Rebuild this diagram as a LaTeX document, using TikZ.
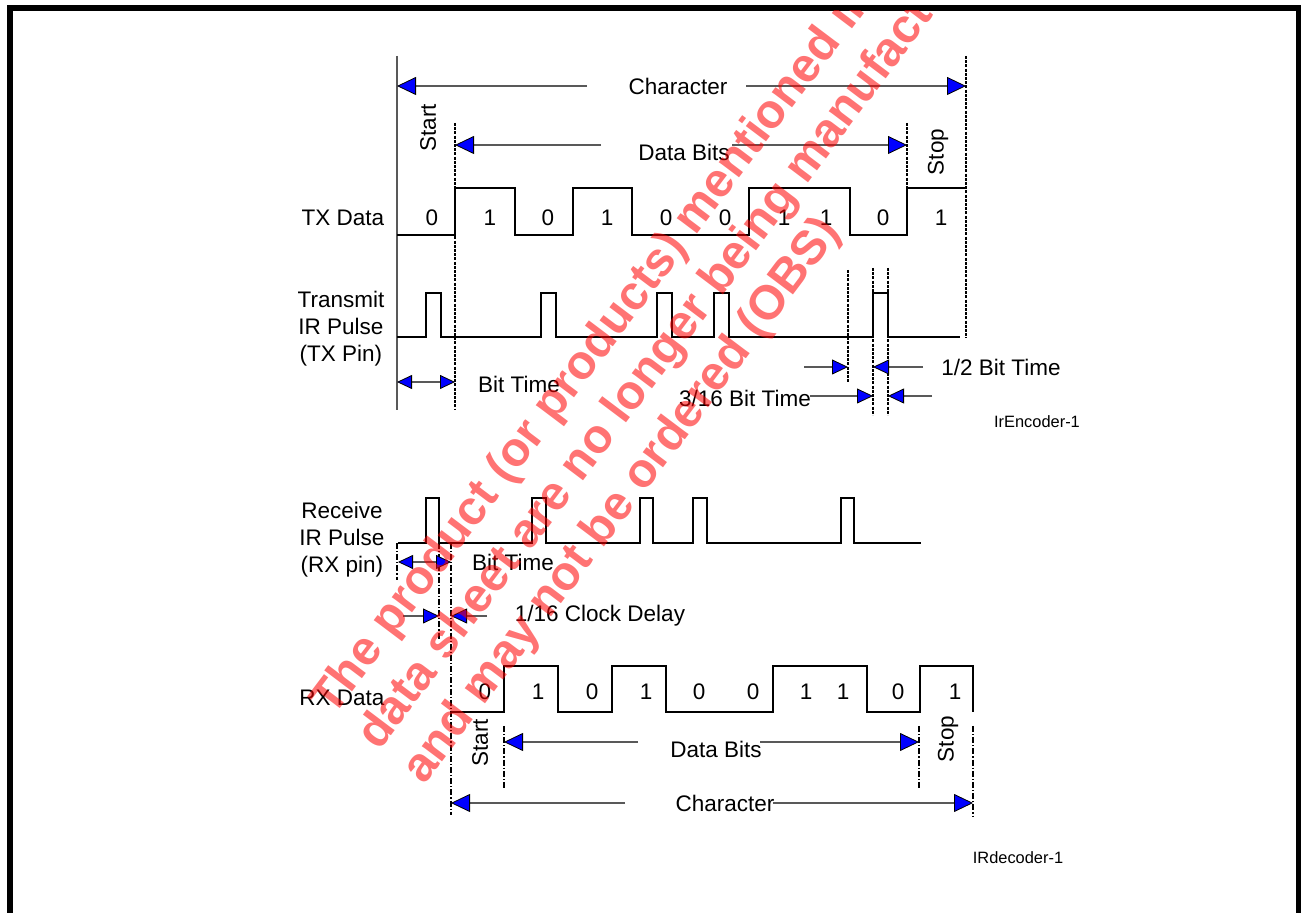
\documentclass[tikz,border=0pt]{standalone}
\usepackage{fontspec}
\setmainfont{Liberation Sans}
\usetikzlibrary{arrows.meta}
\begin{document}
\begin{tikzpicture}[x=0.5pt,y=-0.5pt,
  lbl/.style={inner sep=0pt, font=\fontsize{11.25}{13.5}\selectfont},
  small/.style={inner sep=0pt, font=\fontsize{8.2}{10}\selectfont},
  wave/.style={draw=black, line width=0.6pt, line join=miter},
  guide/.style={draw=black!65, line width=0.6pt},
  dotv/.style={draw=black, line width=0.6pt, dash pattern=on 1.5pt off 0.6pt},
  ddv/.style={draw=black, line width=0.6pt, dash pattern=on 3pt off 1pt on 0.6pt off 1pt},
  arr/.style={draw=black!65, line width=0.55pt, -{Triangle[length=9.5pt,width=9pt,fill=blue,color=black,line width=0.4pt]}},
  sarr/.style={draw=black!65, line width=0.55pt, -{Triangle[length=8pt,width=7.5pt,fill=blue,color=black,line width=0.4pt]}},
  darr/.style={draw=black!65, line width=0.55pt, {Triangle[length=7.5pt,width=7pt,fill=blue,color=black,line width=0.4pt]}-{Triangle[length=7.5pt,width=7pt,fill=blue,color=black,line width=0.4pt]}},
  wm/.style={text=red, text opacity=0.55, inner sep=0pt, anchor=base west, rotate=53, font=\fontsize{24}{28}\bfseries\selectfont}
]
\useasboundingbox (0,0) rectangle (1301,913);
\fill[white] (0,0) rectangle (1301,913);
% frame
\fill[black] (7,5) rectangle (1301,11);
\fill[black] (7,5) rectangle (13,913);
\fill[black] (1296,5) rectangle (1301,913);

% ================= TX part =================
\draw[guide] (397,56) -- (397,410);
\draw[dotv] (455,123) -- (455,410);
\draw[dotv] (907,123) -- (907,188);
\draw[dotv] (966,56) -- (966,338);
\draw[dotv] (848,270) -- (848,382);
\draw[dotv] (873,268) -- (873,415);
\draw[dotv] (888,268) -- (888,415);

% Character arrow
\node[lbl] (charT) at (678,86) {Character};
\coordinate (cTl) at (397,86); \coordinate (cTr) at (966,86);
\coordinate (cTa) at (587,86); \coordinate (cTb) at (746,86);
\draw[arr] (cTa) -- (cTl);
\draw[arr] (cTb) -- (cTr);

% Data bits arrow
\node[lbl] (dbT) at (684,152) {Data Bits};
\coordinate (dTl) at (455,145); \coordinate (dTr) at (907,145);
\coordinate (dTa) at (601,145); \coordinate (dTb) at (732,145);
\draw[arr] (dTa) -- (dTl);
\draw[arr] (dTb) -- (dTr);

\node[lbl, rotate=90] (startT) at (428,128) {Start};
\node[lbl, rotate=90] (stopT) at (938,152) {Stop};

% TX data waveform
\node[lbl] (txd) at (343,218) {TX Data};
\draw[wave] (397,235) -- (455,235) -- (455,188) -- (515,188) -- (515,235) -- (573,235) -- (573,188)
  -- (632,188) -- (632,235) -- (749,235) -- (749,188) -- (850,188) -- (850,235) -- (907,235)
  -- (907,188) -- (966,188);
\foreach \x/\b in {432/0,490/1,548/0,607/1,666/0,725/0,784/1,826/1,883/0,941/1}
  \node[lbl] at (\x,218) {\b};

% TX IR pulse
\node[lbl, align=center] (txp) at (341,329) {Transmit\\IR Pulse\\(TX Pin)};
\draw[wave] (397,337) -- (426,337) -- (426,293) -- (441,293) -- (441,337)
  -- (541,337) -- (541,293) -- (556,293) -- (556,337)
  -- (657,337) -- (657,293) -- (672,293) -- (672,337)
  -- (714,337) -- (714,293) -- (729,293) -- (729,337)
  -- (873,337) -- (873,293) -- (888,293) -- (888,337) -- (960,337);

% Bit time (TX)
\coordinate (btl) at (397,382); \coordinate (btr) at (455,382);
\draw[darr] (btl) -- (btr);
\node[lbl] (btT) at (519,384) {Bit Time};

% 1/2 bit time
\coordinate (h1a) at (804,367); \coordinate (h1b) at (848,367);
\coordinate (h2a) at (923,367); \coordinate (h2b) at (873,367);
\draw[sarr] (h1a) -- (h1b);
\draw[sarr] (h2a) -- (h2b);
\node[lbl] (halfT) at (1001,367) {1/2 Bit Time};

% 3/16 bit time
\node[lbl] (t316) at (745,398) {3/16 Bit Time};
\coordinate (q1a) at (810,396); \coordinate (q1b) at (873,396);
\coordinate (q2a) at (932,396); \coordinate (q2b) at (888,396);
\draw[sarr] (q1a) -- (q1b);
\draw[sarr] (q2a) -- (q2b);

\node[small] (enc) at (1037,422) {IrEncoder-1};

% ================= RX part =================
\node[lbl, align=center] (rxp) at (342,540) {Receive\\IR Pulse\\(RX pin)};
\draw[wave] (398,543) -- (426,543) -- (426,498) -- (439,498) -- (439,543)
  -- (532,543) -- (532,498) -- (546,498) -- (546,543)
  -- (640,543) -- (640,498) -- (653,498) -- (653,543)
  -- (693,543) -- (693,498) -- (707,498) -- (707,543)
  -- (841,543) -- (841,498) -- (854,498) -- (854,543) -- (921,543);

\draw[ddv] (397,543) -- (397,580);
\draw[ddv] (439,543) -- (439,640);
\draw[ddv] (451,543) -- (451,815);

% Bit time (RX)
\coordinate (rbl) at (398,562); \coordinate (rbr) at (451,562);
\draw[darr] (rbl) -- (rbr);
\node[lbl] (rbT) at (513,562) {Bit Time};

% 1/16 clock delay
\coordinate (k1a) at (403,616); \coordinate (k1b) at (439,616);
\coordinate (k2a) at (487,616); \coordinate (k2b) at (451,616);
\draw[sarr] (k1a) -- (k1b);
\draw[sarr] (k2a) -- (k2b);
\node[lbl] (clk) at (600,616) {1/16 Clock Delay};

% RX data
\node[lbl] (rxd) at (342,698) {RX Data};
\draw[wave] (451,712) -- (504,712) -- (504,666) -- (558,666) -- (558,712) -- (612,712) -- (612,666)
  -- (666,666) -- (666,712) -- (773,712) -- (773,666) -- (867,666) -- (867,712) -- (920,712)
  -- (920,666) -- (973,666) -- (973,712);
\foreach \x/\b in {485/0,538/1,592/0,646/1,699/0,753/0,806/1,843/1,898/0,955/1}
  \node[lbl] at (\x,692) {\b};

\node[lbl, rotate=90] (startR) at (480,743) {Start};
\node[lbl, rotate=90] (stopR) at (948,739) {Stop};
\draw[ddv] (504,726) -- (504,788);
\draw[ddv] (919,726) -- (919,788);
\draw[ddv] (973,726) -- (973,817);

% Data bits (RX)
\node[lbl] (dbR) at (716,749) {Data Bits};
\coordinate (dRl) at (504,742); \coordinate (dRr) at (919,742);
\coordinate (dRa) at (638,742); \coordinate (dRb) at (760,742);
\draw[arr] (dRa) -- (dRl);
\draw[arr] (dRb) -- (dRr);

% Character (RX)
\node[lbl] (charR) at (725,803) {Character};
\coordinate (cRl) at (451,803); \coordinate (cRr) at (973,803);
\coordinate (cRa) at (625,803); \coordinate (cRb) at (773,803);
\draw[arr] (cRa) -- (cRl);
\draw[arr] (cRb) -- (cRr);

\node[small] (dec) at (1018,858) {IRdecoder-1};

% ================= watermark =================
\begin{scope}
\clip (13,11) rectangle (1296,913);
\node[wm] (wm1) at (333,718) {The product (or products) mentioned in this};
\node[wm] (wm2) at (379,752) {data sheet are no longer being manufactured};
\node[wm] (wm3) at (424,786) {and may not be ordered (OBS)};
\end{scope}
\end{tikzpicture}
\end{document}
